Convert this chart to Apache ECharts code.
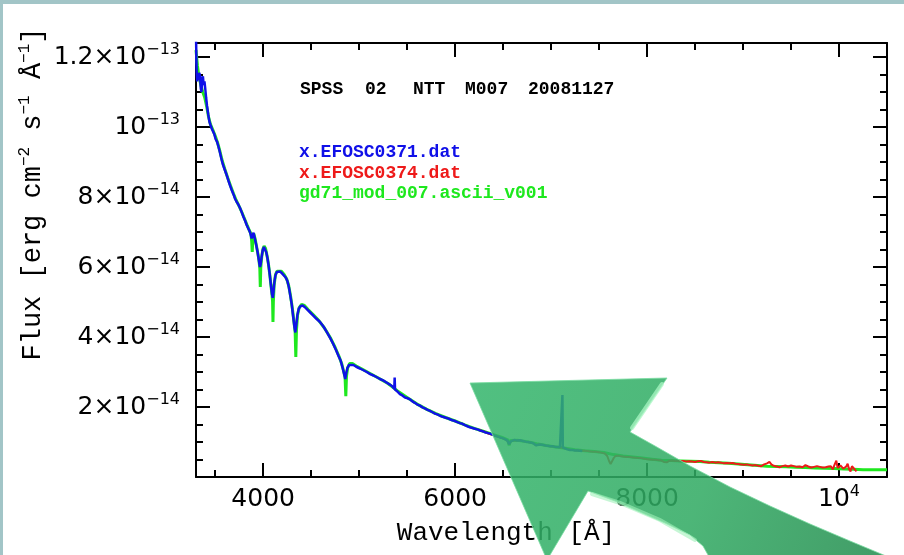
<!DOCTYPE html>
<html>
<head>
<meta charset="utf-8">
<script src="https://cdn.jsdelivr.net/npm/echarts@6/dist/echarts.min.js"></script>
<style>
  html, body { margin: 0; padding: 0; background: #ffffff; }
  #chart { width: 904px; height: 555px; }
</style>
</head>
<body>
<div id="chart"></div>
<script>
// Flux values are in units of 1e-14 erg cm^-2 s^-1 Å^-1, wavelengths in Å.

// x.EFOSC0371.dat (blue arm)
const blueSpectrum = [
  [3300,12.7],[3304,11.9],[3308,11.5],[3313,11.3],[3320,11.5],[3327,11.35],[3334,11.55],[3342,11.45],
  [3350,11.1],[3357,11.0],[3364,11.35],[3372,11.45],[3380,11.2],[3388,11.3],[3396,11.1],[3405,10.85],
  [3415,10.6],[3428,10.35],[3440,10.15],[3452,10.05],[3465,9.95],[3477,9.9],[3490,9.8],[3505,9.65],
  [3519,9.58],[3533,9.45],[3547,9.3],[3562,9.12],[3578,8.95],[3594,8.82],[3610,8.7],[3625,8.58],
  [3640,8.45],[3656,8.32],[3672,8.2],[3690,8.08],[3707,7.95],[3724,7.86],[3742,7.78],[3760,7.68],
  [3777,7.56],[3795,7.43],[3812,7.32],[3828,7.2],[3845,7.1],[3862,7.0],[3872,6.95],[3880,6.82],
  [3888,6.9],[3899,6.98],[3908,6.88],[3918,6.75],[3930,6.6],[3942,6.42],[3952,6.25],[3960,6.1],
  [3967,6.0],[3974,6.08],[3983,6.27],[3995,6.48],[4008,6.57],[4020,6.55],[4032,6.42],[4045,6.25],
  [4058,6.02],[4070,5.75],[4082,5.45],[4092,5.22],[4100,5.12],[4108,5.3],[4117,5.58],[4128,5.76],
  [4142,5.86],[4158,5.89],[4175,5.87],[4196,5.82],[4215,5.77],[4235,5.7],[4252,5.6],[4268,5.42],
  [4283,5.18],[4298,4.92],[4312,4.6],[4325,4.3],[4335,4.13],[4345,4.35],[4356,4.62],[4370,4.8],
  [4388,4.88],[4411,4.9],[4435,4.85],[4460,4.78],[4490,4.7],[4520,4.62],[4555,4.52],[4592,4.43],
  [4628,4.3],[4665,4.13],[4700,3.96],[4730,3.8],[4760,3.62],[4785,3.46],[4808,3.32],[4828,3.12],
  [4845,2.92],[4855,2.8],[4866,2.98],[4878,3.12],[4895,3.2],[4915,3.24],[4940,3.2],[4970,3.15],
  [5008,3.1],[5045,3.05],[5080,3.0],[5115,2.94],[5150,2.9],[5185,2.85],[5217,2.8],[5250,2.76],
  [5285,2.7],[5320,2.64],[5350,2.58],[5366,2.52],[5370,2.84],[5374,2.5],[5400,2.44],[5425,2.37],
  [5450,2.33],[5478,2.27],[5505,2.25],[5529,2.22],[5555,2.16],[5580,2.12],[5607,2.07],[5633,2.04],
  [5660,1.99],[5685,1.96],[5712,1.92],[5738,1.89],[5765,1.85],[5790,1.81],[5815,1.79],[5842,1.75],
  [5870,1.72],[5895,1.7],[5920,1.68],[5946,1.65],[5972,1.62],[5998,1.6],[6024,1.57],[6050,1.54],
  [6076,1.52],[6102,1.48],[6128,1.45],[6154,1.42],[6180,1.4],[6206,1.38],[6232,1.36],[6258,1.33],
  [6284,1.31],[6310,1.28],[6336,1.26],[6363,1.24],[6390,1.21],[6415,1.18],[6440,1.16],[6467,1.13],
  [6494,1.11],[6519,1.08],[6545,1.04],[6563,0.94],[6580,1.02],[6600,1.05],[6620,1.06],[6645,1.04],
  [6675,1.05],[6705,1.03],[6735,1.01],[6760,1.0],[6779,0.99],[6810,0.97],[6842,0.91],[6860,0.95],
  [6883,0.93],[6910,0.92],[6940,0.9],[6965,0.89],[6988,0.88],[7015,0.88],[7040,0.86],[7065,0.86],
  [7092,0.85],[7110,0.84],[7114,0.84],[7118,2.34],[7122,0.84],[7144,0.82],[7170,0.79],[7196,0.77],
  [7222,0.77],[7248,0.76],[7275,0.76],[7300,0.75],[7325,0.74]
];

// x.EFOSC0374.dat (red arm)
const redSpectrum = [
  [6250,1.35],[6280,1.31],[6310,1.29],[6340,1.25],[6370,1.22],[6400,1.2],[6430,1.17],[6460,1.14],
  [6490,1.11],[6520,1.08],[6545,1.03],[6563,0.93],[6580,1.01],[6610,1.05],[6640,1.04],[6670,1.05],
  [6700,1.03],[6730,1.01],[6760,1.0],[6790,0.98],[6820,0.96],[6845,0.9],[6870,0.94],[6900,0.92],
  [6930,0.91],[6960,0.89],[6990,0.88],[7020,0.87],[7050,0.86],[7080,0.85],[7110,0.84],[7140,0.82],
  [7170,0.8],[7200,0.78],[7230,0.77],[7260,0.76],[7290,0.76],[7320,0.75],[7350,0.75],[7380,0.74],
  [7410,0.73],[7440,0.72],[7470,0.72],[7500,0.71],[7530,0.69],[7560,0.67],[7585,0.6],[7605,0.45],
  [7620,0.37],[7635,0.42],[7650,0.53],[7670,0.6],[7700,0.61],[7730,0.59],[7760,0.58],[7790,0.57],
  [7820,0.57],[7850,0.56],[7880,0.55],[7910,0.54],[7940,0.54],[7970,0.52],[8000,0.51],[8030,0.5],
  [8060,0.49],[8090,0.49],[8120,0.48],[8150,0.47],[8175,0.43],[8190,0.39],[8205,0.42],[8230,0.46],
  [8260,0.47],[8290,0.46],[8320,0.46],[8350,0.45],[8380,0.46],[8410,0.44],[8440,0.45],[8470,0.44],
  [8500,0.43],[8530,0.45],[8560,0.46],[8590,0.43],[8620,0.42],[8650,0.41],[8680,0.43],[8710,0.41],
  [8740,0.42],[8770,0.41],[8800,0.39],[8830,0.4],[8860,0.39],[8890,0.4],[8920,0.38],[8950,0.37],
  [8980,0.36],[9010,0.35],[9040,0.36],[9070,0.34],[9100,0.33],[9130,0.34],[9160,0.32],[9190,0.31],
  [9220,0.36],[9250,0.39],[9275,0.43],[9295,0.36],[9320,0.32],[9350,0.3],[9380,0.28],[9410,0.31],
  [9440,0.33],[9470,0.3],[9500,0.33],[9530,0.31],[9560,0.29],[9590,0.3],[9620,0.28],[9650,0.34],
  [9680,0.3],[9710,0.27],[9740,0.29],[9770,0.31],[9800,0.29],[9830,0.27],[9860,0.28],[9890,0.3],
  [9915,0.31],[9935,0.22],[9955,0.36],[9972,0.47],[9985,0.26],[10000,0.22],[10015,0.33],[10030,0.38],
  [10045,0.24],[10060,0.19],[10075,0.3],[10090,0.38],[10105,0.22],[10120,0.16],[10135,0.31],[10150,0.34],
  [10165,0.21],[10182,0.16]
];

// gd71_mod_007.ascii_v001 (model)
const modelSpectrum = [
  [3300,12.2],[3315,11.75],[3330,11.45],[3350,11.2],[3370,11.0],[3390,10.85],[3410,10.6],[3430,10.3],
  [3450,10.08],[3475,9.92],[3500,9.75],[3525,9.55],[3550,9.3],[3575,9.02],[3600,8.8],[3630,8.55],
  [3660,8.32],[3690,8.1],[3720,7.9],[3750,7.73],[3780,7.55],[3810,7.35],[3835,7.18],[3855,7.05],
  [3872,6.95],[3880,6.75],[3886,6.43],[3892,6.8],[3902,6.95],[3915,6.82],[3930,6.6],[3945,6.38],
  [3958,6.15],[3965,5.95],[3970,5.43],[3975,5.98],[3985,6.3],[3998,6.52],[4010,6.6],[4025,6.53],
  [4040,6.33],[4055,6.08],[4068,5.8],[4080,5.5],[4092,5.2],[4098,5.0],[4102,4.43],[4106,5.0],
  [4114,5.48],[4128,5.78],[4145,5.88],[4165,5.92],[4190,5.88],[4220,5.78],[4245,5.66],[4265,5.48],
  [4285,5.18],[4305,4.8],[4322,4.4],[4333,4.15],[4340,3.43],[4347,4.2],[4358,4.62],[4375,4.84],
  [4400,4.93],[4430,4.9],[4470,4.78],[4520,4.64],[4580,4.47],[4640,4.25],[4700,3.98],[4750,3.7],
  [4790,3.45],[4820,3.22],[4840,3.0],[4853,2.85],[4861,2.31],[4868,2.88],[4880,3.12],[4900,3.24],
  [4930,3.24],[4970,3.17],[5020,3.1],[5100,2.98],[5200,2.83],[5300,2.67],[5400,2.46],[5500,2.27],
  [5600,2.09],[5700,1.94],[5800,1.81],[5900,1.7],[6000,1.6],[6100,1.49],[6200,1.39],[6300,1.3],
  [6400,1.21],[6500,1.12],[6550,1.06],[6563,0.9],[6576,1.04],[6650,1.05],[6750,1.01],[6850,0.95],
  [6950,0.9],[7050,0.86],[7150,0.82],[7250,0.78],[7350,0.75],[7450,0.73],[7550,0.7],[7650,0.64],
  [7750,0.6],[7850,0.57],[7950,0.54],[8050,0.51],[8150,0.48],[8250,0.47],[8350,0.46],[8450,0.45],
  [8550,0.44],[8650,0.42],[8750,0.41],[8850,0.39],[8950,0.37],[9050,0.35],[9150,0.33],[9250,0.31],
  [9350,0.3],[9450,0.29],[9550,0.28],[9650,0.27],[9750,0.26],[9850,0.25],[9950,0.24],[10050,0.23],
  [10150,0.22],[10250,0.21],[10350,0.21],[10500,0.21]
];

const seriesNames = ['x.EFOSC0371.dat', 'x.EFOSC0374.dat', 'gd71_mod_007.ascii_v001'];
const titleWords = ['SPSS', '02', 'NTT', 'M007', '20081127'];

// Axis ranges and ticks
const xRange = [3300, 10500];
const yRange = [0, 12.4];
const xMajorTicks = [4000, 6000, 8000, 10000];
const xMinorTicks = [3500, 4500, 5000, 5500, 6500, 7000, 7500, 8500, 9000, 9500];
const xTickLabels = ['4000', '6000', '8000', '10{s|4}'];
const yMajorTicks = [2, 4, 6, 8, 10, 12];
const yMinorTicks = [0.5, 1, 1.5, 2.5, 3, 3.5, 4.5, 5, 5.5, 6.5, 7, 7.5, 8.5, 9, 9.5, 10.5, 11, 11.5];
const yTickLabels = ['2×10{s|−14}', '4×10{s|−14}', '6×10{s|−14}', '8×10{s|−14}', '10{s|−13}', '1.2×10{s|−13}'];

const INK = '#000000';
const BLUE = '#1010e8';
const RED = '#ee1a1a';
const GREEN = '#1ee81e';
const MONO = '"Liberation Mono", "DejaVu Sans Mono", monospace';
const SANS = '"DejaVu Sans", sans-serif';

const supStyle = { fontSize: 16, fontFamily: SANS, color: INK, verticalAlign: 'top', lineHeight: 16 };

function labelFor(values, labels) {
  return function (v) {
    for (let i = 0; i < values.length; i++) {
      if (Math.abs(values[i] - v) < 1e-6) return labels[i];
    }
    return '';
  };
}

function xAxisDef(position, ticks, len, drawLine, withLabels) {
  return {
    type: 'value', position: position, min: xRange[0], max: xRange[1],
    axisLine: { show: drawLine, onZero: false, lineStyle: { color: INK, width: 2 } },
    axisTick: { show: true, inside: true, length: len, customValues: ticks, lineStyle: { color: INK, width: 2 } },
    axisLabel: withLabels ? {
      show: true, customValues: xMajorTicks, formatter: labelFor(xMajorTicks, xTickLabels),
      margin: 7, fontFamily: SANS, fontSize: 25, lineHeight: 30, color: INK,
      rich: { s: supStyle }
    } : { show: false },
    splitLine: { show: false }
  };
}

function yAxisDef(position, ticks, len, drawLine, withLabels) {
  return {
    type: 'value', position: position, min: yRange[0], max: yRange[1],
    axisLine: { show: drawLine, onZero: false, lineStyle: { color: INK, width: 2 } },
    axisTick: { show: true, inside: true, length: len, customValues: ticks, lineStyle: { color: INK, width: 2 } },
    axisLabel: withLabels ? {
      show: true, customValues: yMajorTicks, formatter: labelFor(yMajorTicks, yTickLabels),
      margin: 16, fontFamily: SANS, fontSize: 25, lineHeight: 30, color: INK,
      rich: { s: supStyle }
    } : { show: false },
    splitLine: { show: false }
  };
}

function lineSeries(name, data, color, width) {
  return {
    name: name, type: 'line', data: data, xAxisIndex: 0, yAxisIndex: 0,
    showSymbol: false, symbol: 'none', smooth: false, clip: true,
    lineStyle: { color: color, width: width }, emphasis: { disabled: true }
  };
}

// Large curved pointer drawn over the plot
const arrowShape = [
  [470, 383], [667, 378], [630, 432],
  [655, 446], [690, 466], [730, 487], [770, 506], [810, 524], [850, 541], [886, 556], [900, 562],
  [712, 562], [703, 546], [690, 535], [665, 523], [640, 512], [615, 501], [588, 491],
  [547, 560]
];

const chart = echarts.init(document.getElementById('chart'), null, { renderer: 'canvas' });

const textEls = [];
const wordX = [300, 365, 413, 465, 528];
titleWords.forEach(function (w, i) {
  textEls.push({
    type: 'text', x: wordX[i], y: 89, z: 10,
    style: { text: w, fill: INK, font: 'bold 18px ' + MONO, textAlign: 'left', textVerticalAlign: 'middle' }
  });
});
const legendColors = [BLUE, RED, GREEN];
const legendY = [152, 173, 193];
seriesNames.forEach(function (n, i) {
  textEls.push({
    type: 'text', x: 299, y: legendY[i], z: 10,
    style: { text: n, fill: legendColors[i], font: 'bold 18px ' + MONO, textAlign: 'left', textVerticalAlign: 'middle' }
  });
});
textEls.push({
  type: 'text', x: 506, y: 533, z: 10,
  style: { text: 'Wavelength [Å]', fill: INK, font: '26px ' + MONO, textAlign: 'center', textVerticalAlign: 'middle' }
});
textEls.push({
  type: 'text', x: 33, y: 194, rotation: Math.PI / 2, z: 10,
  style: {
    text: 'Flux [erg cm{s|−2} s{s|−1} Å{s|−1}]', fill: INK,
    fontFamily: MONO, fontSize: 27, lineHeight: 32, align: 'center', verticalAlign: 'middle',
    rich: { s: { fontSize: 16, fontFamily: MONO, fill: INK, verticalAlign: 'top', lineHeight: 16 } }
  }
});

chart.setOption({
  animation: false,
  backgroundColor: '#ffffff',
  grid: { left: 196, top: 43, width: 691, height: 434, containLabel: false },
  xAxis: [
    xAxisDef('bottom', xMajorTicks, 14, true, true),
    xAxisDef('bottom', xMinorTicks, 7, false, false),
    xAxisDef('top', xMajorTicks, 14, true, false),
    xAxisDef('top', xMinorTicks, 7, false, false)
  ],
  yAxis: [
    yAxisDef('left', yMajorTicks, 14, true, true),
    yAxisDef('left', yMinorTicks, 7, false, false),
    yAxisDef('right', yMajorTicks, 14, true, false),
    yAxisDef('right', yMinorTicks, 7, false, false)
  ],
  series: [
    lineSeries(seriesNames[2], modelSpectrum, GREEN, 3),
    lineSeries(seriesNames[1], redSpectrum, RED, 2),
    lineSeries(seriesNames[0], blueSpectrum, BLUE, 2.5)
  ],
  graphic: [
    // slide border strips
    { type: 'rect', shape: { x: 0, y: 0, width: 904, height: 4 }, style: { fill: '#a2c5c7' }, z: 1 },
    { type: 'rect', shape: { x: 0, y: 0, width: 3, height: 555 }, style: { fill: '#a2c5c7' }, z: 1 }
  ].concat(textEls).concat([
    {
      type: 'polygon', z: 50,
      shape: { points: arrowShape },
      style: {
        fill: new echarts.graphic.LinearGradient(0, 0, 1, 1, [
          { offset: 0, color: 'rgba(52,182,108,0.86)' },
          { offset: 0.55, color: 'rgba(48,170,98,0.86)' },
          { offset: 1, color: 'rgba(38,140,80,0.88)' }
        ]),
        stroke: 'rgba(120,220,160,0.8)', lineWidth: 1
      }
    },
    {
      type: 'polyline', z: 51,
      shape: { points: [[662, 384], [632, 428]] },
      style: { stroke: 'rgba(170,245,195,0.75)', lineWidth: 4, lineCap: 'round' }
    },
    {
      type: 'polyline', z: 51,
      shape: { points: [[592, 494], [620, 503], [660, 520], [695, 540]] },
      style: { stroke: 'rgba(160,240,185,0.6)', lineWidth: 4, lineCap: 'round' }
    }
  ])
});
</script>
</body>
</html>
